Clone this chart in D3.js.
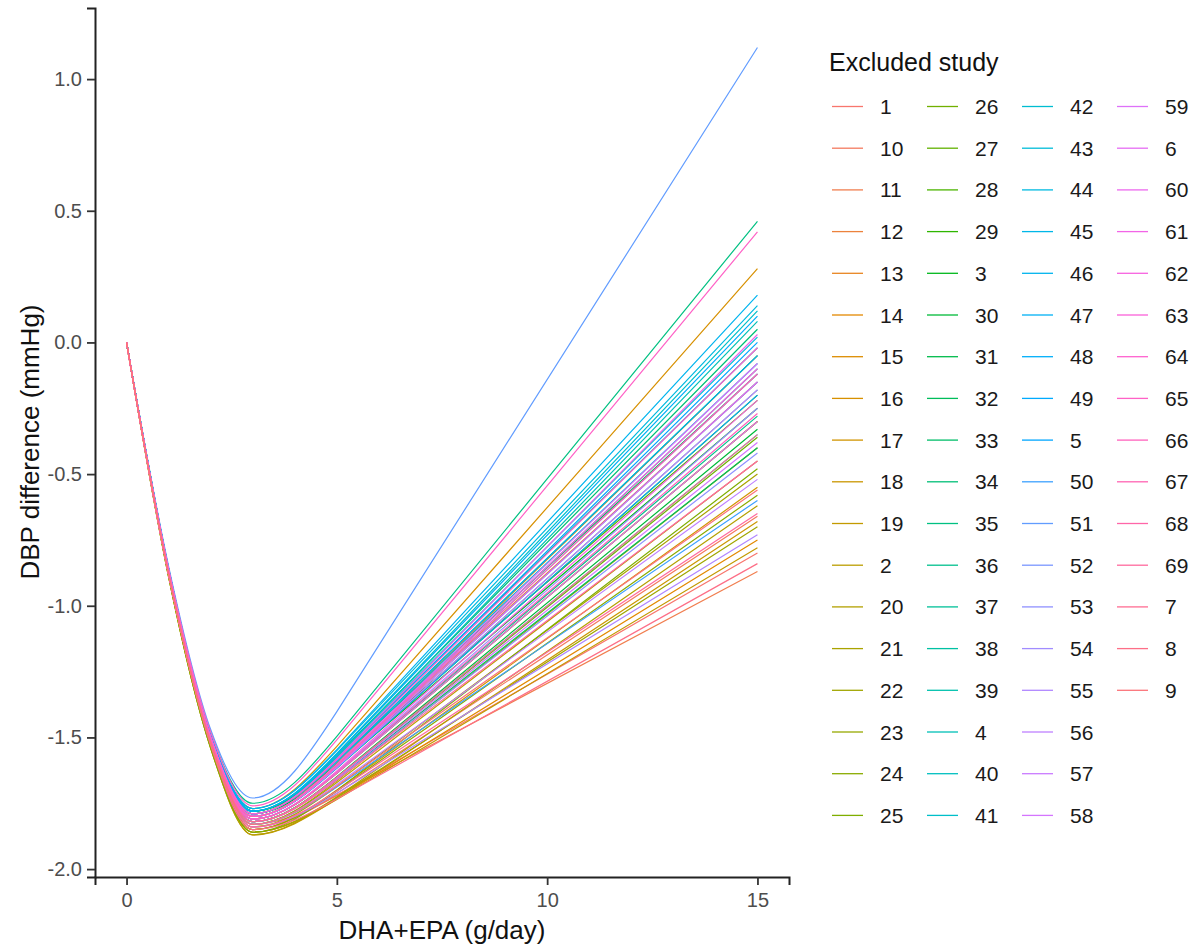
<!DOCTYPE html>
<html>
<head>
<meta charset="utf-8">
<script src="https://cdn.jsdelivr.net/npm/d3@7"></script>
<style>
  body { margin: 0; background: #fff; }
  svg { font-family: "Liberation Sans", Arial, sans-serif; }
</style>
</head>
<body>
<div id="chart"></div>
<script>
// excluded study labels, in the (string-sorted) order the legend uses
const studies = ["1","10","11","12","13","14","15","16","17","18","19","2","20","21","22","23","24","25",
  "26","27","28","29","3","30","31","32","33","34","35","36","37","38","39","4","40","41",
  "42","43","44","45","46","47","48","49","5","50","51","52","53","54","55","56","57","58",
  "59","6","60","61","62","63","64","65","66","67","68","69","7","8","9"];

// dose grid (g/day) where each curve was read
const doses = [0, 1, 2, 3, 5, 15];

// DBP difference at each dose, one value per study (same order as studies)
const yAt0 = studies.map(() => 0);
const yAt1 = [-0.88,-0.87,-0.86,-0.87,-0.88,-0.88,-0.87,-0.86,-0.88,-0.89,-0.88,-0.87,-0.89,-0.88,-0.88,-0.87,-0.88,-0.89,
  -0.87,-0.87,-0.86,-0.87,-0.87,-0.88,-0.86,-0.87,-0.87,-0.86,-0.86,-0.87,-0.87,-0.86,-0.87,-0.87,-0.87,-0.86,
  -0.87,-0.86,-0.86,-0.87,-0.86,-0.87,-0.86,-0.87,-0.87,-0.87,-0.85,-0.87,-0.87,-0.87,-0.88,-0.87,-0.87,-0.88,
  -0.87,-0.87,-0.88,-0.87,-0.88,-0.88,-0.87,-0.86,-0.88,-0.88,-0.88,-0.88,-0.88,-0.88,-0.88];
const yAt2 = [-1.52,-1.53,-1.51,-1.50,-1.51,-1.53,-1.51,-1.49,-1.53,-1.54,-1.53,-1.52,-1.54,-1.52,-1.53,-1.52,-1.53,-1.54,
  -1.51,-1.51,-1.49,-1.50,-1.50,-1.51,-1.49,-1.51,-1.50,-1.49,-1.48,-1.51,-1.50,-1.49,-1.51,-1.50,-1.50,-1.49,
  -1.50,-1.49,-1.49,-1.50,-1.49,-1.50,-1.49,-1.50,-1.50,-1.52,-1.47,-1.50,-1.51,-1.51,-1.52,-1.52,-1.50,-1.51,
  -1.50,-1.51,-1.51,-1.50,-1.51,-1.51,-1.50,-1.48,-1.52,-1.51,-1.52,-1.52,-1.52,-1.53,-1.52];
const yAt3 = [-1.84,-1.85,-1.83,-1.79,-1.80,-1.86,-1.81,-1.77,-1.85,-1.87,-1.86,-1.83,-1.87,-1.84,-1.86,-1.83,-1.85,-1.86,
  -1.82,-1.81,-1.78,-1.80,-1.79,-1.82,-1.78,-1.82,-1.79,-1.78,-1.75,-1.81,-1.80,-1.78,-1.82,-1.79,-1.80,-1.78,
  -1.79,-1.78,-1.77,-1.80,-1.77,-1.79,-1.78,-1.80,-1.79,-1.83,-1.73,-1.80,-1.82,-1.81,-1.84,-1.83,-1.80,-1.82,
  -1.80,-1.81,-1.80,-1.79,-1.81,-1.80,-1.79,-1.76,-1.81,-1.80,-1.82,-1.84,-1.82,-1.85,-1.83];
const yAt5 = [-1.720,-1.713,-1.720,-1.601,-1.599,-1.732,-1.636,-1.534,-1.700,-1.733,-1.736,-1.671,-1.726,-1.686,-1.727,-1.665,-1.704,-1.701,
  -1.652,-1.636,-1.601,-1.616,-1.613,-1.649,-1.589,-1.657,-1.590,-1.569,-1.496,-1.634,-1.614,-1.578,-1.651,-1.575,-1.604,-1.561,
  -1.593,-1.573,-1.550,-1.610,-1.546,-1.590,-1.564,-1.616,-1.584,-1.688,-1.402,-1.607,-1.659,-1.631,-1.712,-1.679,-1.614,-1.654,
  -1.602,-1.636,-1.610,-1.581,-1.627,-1.604,-1.586,-1.509,-1.633,-1.607,-1.662,-1.703,-1.651,-1.734,-1.684];
const yAt15 = [-0.80,-0.66,-0.87,-0.15,-0.05,-0.75,-0.30,0.28,-0.55,-0.68,-0.78,-0.45,-0.62,-0.50,-0.70,-0.40,-0.58,-0.48,
  -0.36,-0.30,-0.22,-0.20,-0.25,-0.33,-0.12,-0.40,-0.05,0.05,0.46,-0.28,-0.18,-0.02,-0.35,0.08,-0.10,0.12,
  -0.08,0.02,0.14,-0.15,0.18,-0.05,0.10,-0.20,0.00,-0.60,1.12,-0.12,-0.42,-0.25,-0.73,-0.52,-0.18,-0.38,
  -0.08,-0.30,-0.15,0.03,-0.22,-0.10,-0.02,0.42,-0.27,-0.12,-0.45,-0.65,-0.35,-0.84,-0.56];

const xTicks = [0, 5, 10, 15];
const yTicks = [-2.0, -1.5, -1.0, -0.5, 0.0, 0.5, 1.0];

// ggplot-style hue palette (polar Luv, l=65, c=100)
function hclLuv(h, c, l) {
  const hr = h * Math.PI / 180;
  const u = c * Math.cos(hr), v = c * Math.sin(hr);
  const Xn = 95.047, Yn = 100, Zn = 108.883;
  const den = Xn + 15 * Yn + 3 * Zn;
  const un = 4 * Xn / den, vn = 9 * Yn / den;
  const Y = l > 8 ? Yn * Math.pow((l + 16) / 116, 3) : Yn * l / 903.3;
  const up = u / (13 * l) + un, vp = v / (13 * l) + vn;
  const X = Y * 9 * up / (4 * vp);
  const Z = Y * (12 - 3 * up - 20 * vp) / (4 * vp);
  const x = X / 100, y = Y / 100, z = Z / 100;
  let r = 3.2404542 * x - 1.5371385 * y - 0.4985314 * z;
  let g = -0.9692660 * x + 1.8760108 * y + 0.0415560 * z;
  let b = 0.0556434 * x - 0.2040259 * y + 1.0572252 * z;
  const gam = t => {
    t = t <= 0.0031308 ? 12.92 * t : 1.055 * Math.pow(t, 1 / 2.4) - 0.055;
    return Math.max(0, Math.min(255, Math.round(t * 255)));
  };
  return d3.rgb(gam(r), gam(g), gam(b)).formatHex();
}
const n = studies.length;
const colors = studies.map((s, i) => hclLuv(15 + 360 * i / n, 100, 65));

const W = 1197, H = 950;
const svg = d3.select("#chart").append("svg")
  .attr("width", W).attr("height", H);

const x = d3.scaleLinear().domain([-0.75, 15.75]).range([95, 789]);
const y = d3.scaleLinear().domain([-2.03, 1.27]).range([877, 8]);

// curves
const smooth = d3.line().x(d => x(d[0])).y(d => y(d[1])).curve(d3.curveMonotoneX);
const series = studies.map((s, i) => ({
  id: s,
  color: colors[i],
  pts: doses.map((dv, k) => [dv, [yAt0, yAt1, yAt2, yAt3, yAt5, yAt15][k][i]])
}));

svg.append("g")
  .selectAll("path")
  .data(series)
  .enter().append("path")
  .attr("d", d => {
    // spline part up to 5 g/day, straight beyond the last knot
    const last = d.pts[d.pts.length - 1];
    return smooth(d.pts.slice(0, 5)) + "L" + x(last[0]) + "," + y(last[1]);
  })
  .attr("fill", "none")
  .attr("stroke", d => d.color)
  .attr("stroke-width", 1.2);

// axes
const xAxis = svg.append("g")
  .attr("transform", "translate(0,877)")
  .call(d3.axisBottom(x).tickValues(xTicks).tickSize(8).tickPadding(8).tickFormat(d3.format("d")));
const yAxis = svg.append("g")
  .attr("transform", "translate(95,0)")
  .call(d3.axisLeft(y).tickValues(yTicks).tickSize(8).tickPadding(5).tickFormat(d => d.toFixed(1)));

[xAxis, yAxis].forEach(a => {
  a.select(".domain").attr("stroke", "#222").attr("stroke-width", 2);
  a.selectAll(".tick line").attr("stroke", "#333").attr("stroke-width", 1.8);
  a.selectAll(".tick text").attr("fill", "#4d4d4d").style("font-size", "20px");
});

svg.append("text")
  .attr("x", 442).attr("y", 939)
  .attr("text-anchor", "middle")
  .style("font-size", "26px")
  .attr("fill", "#111")
  .text("DHA+EPA (g/day)");

svg.append("text")
  .attr("transform", "translate(39,442) rotate(-90)")
  .attr("text-anchor", "middle")
  .style("font-size", "26px")
  .attr("fill", "#111")
  .text("DBP difference (mmHg)");

// legend
const legend = svg.append("g");
legend.append("text")
  .attr("x", 829).attr("y", 71)
  .style("font-size", "25px")
  .attr("fill", "#111")
  .text("Excluded study");

const perCol = 18;
const item = legend.selectAll("g.item")
  .data(series)
  .enter().append("g")
  .attr("class", "item")
  .attr("transform", (d, i) => "translate(" + (832 + 95 * Math.floor(i / perCol)) + "," + (106.5 + 41.7 * (i % perCol)) + ")");

item.append("line")
  .attr("x1", 0).attr("x2", 31)
  .attr("y1", 0).attr("y2", 0)
  .attr("stroke", d => d.color)
  .attr("stroke-width", 1.3);

item.append("text")
  .attr("x", 48).attr("y", 0).attr("dy", "0.36em")
  .style("font-size", "21px")
  .attr("fill", "#1a1a1a")
  .text(d => d.id);
</script>
</body>
</html>
